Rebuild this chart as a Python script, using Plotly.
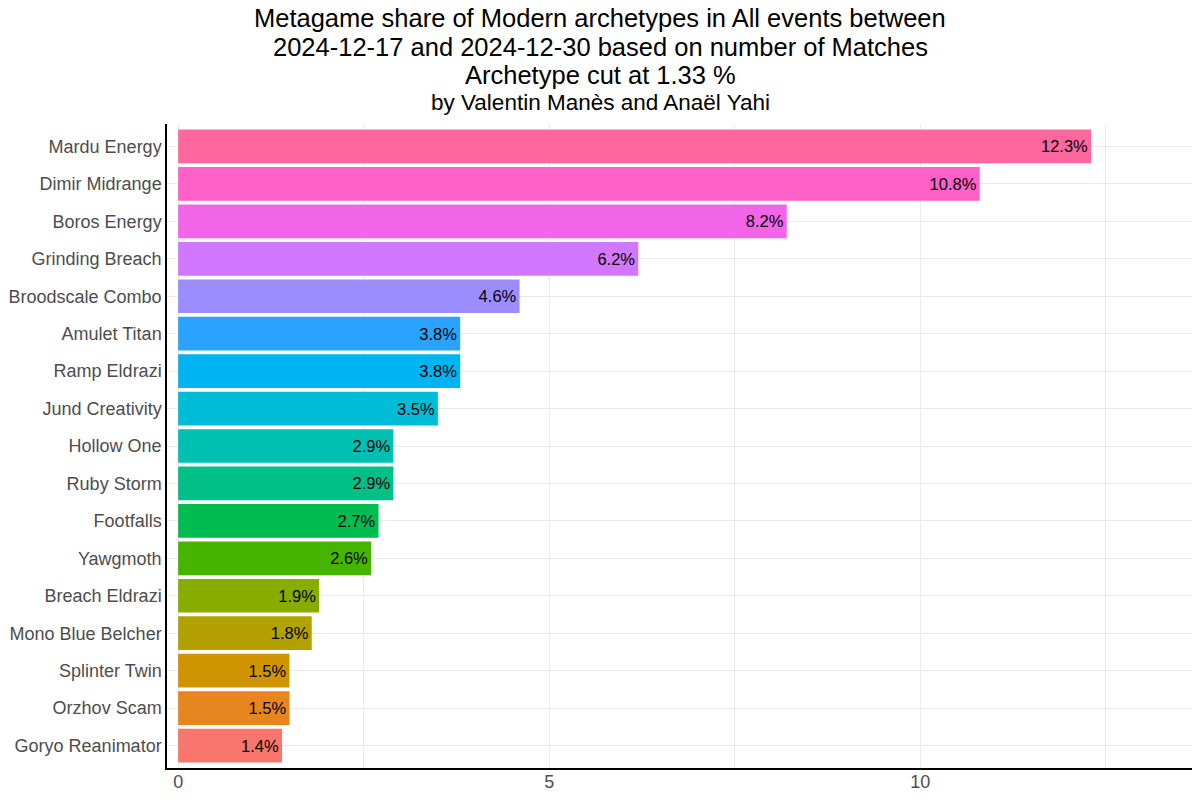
import math
import plotly.graph_objects as go

archetypes = ["Mardu Energy", "Dimir Midrange", "Boros Energy", "Grinding Breach",
              "Broodscale Combo", "Amulet Titan", "Ramp Eldrazi", "Jund Creativity",
              "Hollow One", "Ruby Storm", "Footfalls", "Yawgmoth", "Breach Eldrazi",
              "Mono Blue Belcher", "Splinter Twin", "Orzhov Scam", "Goryo Reanimator"]
shares = [12.3, 10.8, 8.2, 6.2, 4.6, 3.8, 3.8, 3.5, 2.9, 2.9, 2.7, 2.6, 1.9, 1.8, 1.5, 1.5, 1.4]
labels = [f"{v:.1f}%" for v in shares]
x_ticks = [0, 5, 10]
title_lines = ["Metagame share of Modern archetypes in All events between",
               "2024-12-17 and 2024-12-30 based on number of Matches",
               "Archetype cut at 1.33 %"]
subtitle = "by Valentin Manès and Anaël Yahi"


def hcl_hex(h, c=100.0, l=65.0):
    xn, yn, zn = 95.047, 100.0, 108.883
    hr = math.radians(h)
    u, v = c * math.cos(hr), c * math.sin(hr)
    y = yn * ((l + 16) / 116) ** 3 if l > 8 else yn * l / 903.3
    d = xn + 15 * yn + 3 * zn
    un, vn = 4 * xn / d, 9 * yn / d
    up, vp = u / (13 * l) + un, v / (13 * l) + vn
    x = 9.0 * y * up / (4 * vp)
    z = -x / 3 - 5 * y + 3 * y / vp
    x, y, z = x / 100, y / 100, z / 100
    r = 3.240479 * x - 1.537150 * y - 0.498535 * z
    g = -0.969256 * x + 1.875992 * y + 0.041556 * z
    b = 0.055648 * x - 0.204043 * y + 1.057311 * z

    def gam(t):
        t = 12.92 * t if t <= 0.0031308 else 1.055 * t ** (1 / 2.4) - 0.055
        return max(0, min(255, round(t * 255)))
    return "#{:02X}{:02X}{:02X}".format(gam(r), gam(g), gam(b))


n = len(archetypes)
hues = [15 + i * 360 / n for i in range(n)]
colors = [hcl_hex(hues[n - 1 - i]) for i in range(n)]

FONT = "Liberation Sans, Arial, sans-serif"

fig = go.Figure(go.Bar(
    x=shares, y=archetypes, orientation="h",
    marker=dict(color=colors, line=dict(width=0)),
    text=labels, textposition="inside", insidetextanchor="end",
    textfont=dict(color="black", size=16.5, family=FONT),
    hoverinfo="skip",
))

# layout geometry (pixels)
W, H = 1200, 800
ML, MR, MT, MB = 167, 8, 124, 29
ph = H - MT - MB
pw = W - ML - MR


def py(p):
    return (H - MB - p) / ph


px_center = (600 - ML) / pw

annotations = []
for line, yc in zip(title_lines, [18, 47, 75]):
    annotations.append(dict(text=line, x=px_center, y=py(yc), xref="paper", yref="paper",
                            xanchor="center", yanchor="middle", showarrow=False,
                            font=dict(size=25.5, color="black", family=FONT)))
annotations.append(dict(text=subtitle, x=px_center, y=py(102), xref="paper", yref="paper",
                        xanchor="center", yanchor="middle", showarrow=False,
                        font=dict(size=22.5, color="black", family=FONT)))

fig.update_layout(
    width=W, height=H,
    paper_bgcolor="white", plot_bgcolor="white",
    margin=dict(l=ML, r=MR, t=MT, b=MB),
    bargap=0.1,
    font=dict(family=FONT, color="#4D4D4D"),
    annotations=annotations,
    showlegend=False,
)

fig.update_xaxes(
    range=[-0.15, 13.66], tickvals=x_ticks, ticktext=[str(t) for t in x_ticks],
    showgrid=True, gridcolor="#EBEBEB", gridwidth=1.2,
    minor=dict(tickvals=[2.5, 7.5, 12.5], showgrid=True, gridcolor="#EBEBEB", gridwidth=0.7),
    showline=True, linecolor="black", linewidth=1.5,
    tickfont=dict(size=18, color="#4D4D4D"), ticks="", zeroline=False,
    ticklabelstandoff=-3,
)
fig.update_yaxes(
    categoryorder="array", categoryarray=archetypes[::-1],
    range=[-0.6, n - 0.4],
    showgrid=True, gridcolor="#EBEBEB", gridwidth=1.2,
    showline=True, linecolor="black", linewidth=1.5,
    tickfont=dict(size=18, color="#4D4D4D"), ticks="", zeroline=False,
)

fig.write_html("out.html")
